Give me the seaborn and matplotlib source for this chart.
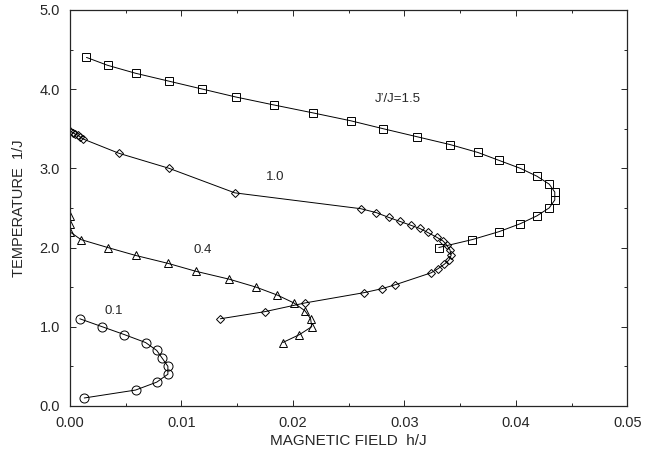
import numpy as np
import pandas as pd
import matplotlib
matplotlib.use("Agg")
import matplotlib.pyplot as plt
from matplotlib.ticker import MultipleLocator, FormatStrFormatter
import seaborn as sns

# J'/J = 1.5 (squares)
h_15 = [0.0015, 0.0034, 0.0059, 0.0089, 0.0119, 0.0149, 0.0183, 0.0218, 0.0252,
        0.0281, 0.0311, 0.0341, 0.0366, 0.0385, 0.0404, 0.0419, 0.0430, 0.0435,
        0.0435, 0.0430, 0.0419, 0.0404, 0.0385, 0.0361, 0.0331]
t_15 = [4.40, 4.30, 4.20, 4.10, 4.00, 3.90, 3.80, 3.70, 3.60,
        3.50, 3.40, 3.30, 3.20, 3.10, 3.00, 2.90, 2.80, 2.70,
        2.60, 2.50, 2.40, 2.30, 2.20, 2.10, 2.00]

# J'/J = 1.0 (diamonds)
h_10 = [0.0000, 0.0003, 0.0005, 0.0007, 0.0009, 0.0012, 0.0044, 0.0089, 0.0148,
        0.0261, 0.0275, 0.0286, 0.0296, 0.0306, 0.0314, 0.0321, 0.0329, 0.0335,
        0.0338, 0.0341, 0.0342, 0.0340, 0.0336, 0.0330, 0.0324, 0.0292, 0.0280,
        0.0264, 0.0211, 0.0175, 0.0135]
t_10 = [3.47, 3.45, 3.43, 3.42, 3.40, 3.37, 3.19, 3.00, 2.69,
        2.49, 2.44, 2.38, 2.33, 2.28, 2.24, 2.19, 2.13, 2.08,
        2.03, 1.97, 1.90, 1.84, 1.79, 1.73, 1.68, 1.53, 1.48,
        1.43, 1.30, 1.19, 1.10]

# J'/J = 0.4 (triangles)
h_04 = [0.0000, 0.0000, 0.0000, 0.0010, 0.0034, 0.0059, 0.0088, 0.0113, 0.0143,
        0.0167, 0.0186, 0.0201, 0.0211, 0.0216, 0.0217, 0.0206, 0.0191]
t_04 = [2.40, 2.30, 2.20, 2.10, 2.00, 1.90, 1.80, 1.70, 1.60,
        1.50, 1.40, 1.30, 1.20, 1.10, 1.00, 0.90, 0.80]

# J'/J = 0.1 (circles)
h_01 = [0.0009, 0.0029, 0.0049, 0.0068, 0.0078, 0.0083, 0.0088, 0.0088, 0.0078,
        0.0059, 0.0013]
t_01 = [1.10, 1.00, 0.90, 0.80, 0.70, 0.60, 0.50, 0.40, 0.30, 0.20, 0.10]

series = [
    (h_15, t_15, "s", 6.0),
    (h_10, t_10, "D", 4.2),
    (h_04, t_04, "^", 6.0),
    (h_01, t_01, "o", 6.5),
]

labels = ["J\u2019/J=1.5", "1.0", "0.4", "0.1"]
label_pos = [(0.0294, 3.87), (0.0184, 2.89), (0.0119, 1.97), (0.0039, 1.20)]

sns.set_style("ticks")
plt.rcParams["font.family"] = ["Liberation Sans", "DejaVu Sans"]

fig = plt.figure(figsize=(6.46, 4.5), dpi=100)
ax = fig.add_axes([0.108, 0.098, 0.863, 0.880])

for h, t, mk, ms in series:
    df = pd.DataFrame({"h": h, "T": t})
    sns.lineplot(data=df, x="h", y="T", sort=False, estimator=None, ax=ax,
                 color="black", linewidth=0.7, marker=mk, markersize=ms,
                 markerfacecolor="none", markeredgecolor="black",
                 markeredgewidth=0.7)

for txt, (x, y) in zip(labels, label_pos):
    ax.text(x, y, txt, ha="center", va="center", fontsize=9.5)

ax.set_xlim(0, 0.05)
ax.set_ylim(0, 5.0)
ax.xaxis.set_major_locator(MultipleLocator(0.01))
ax.xaxis.set_minor_locator(MultipleLocator(0.005))
ax.yaxis.set_major_locator(MultipleLocator(1.0))
ax.yaxis.set_minor_locator(MultipleLocator(0.5))
ax.xaxis.set_major_formatter(FormatStrFormatter("%.2f"))
ax.yaxis.set_major_formatter(FormatStrFormatter("%.1f"))
ax.tick_params(which="both", direction="in", top=True, right=True,
               labelsize=10.5, width=0.7)
ax.tick_params(which="major", length=4)
ax.tick_params(which="minor", length=2.5)
ax.tick_params(axis="x", which="major", pad=7)
ax.tick_params(axis="y", which="major", pad=7)
for sp in ax.spines.values():
    sp.set_linewidth(0.9)

ax.set_xlabel("MAGNETIC FIELD  h/J", fontsize=11, labelpad=3)
ax.set_ylabel("TEMPERATURE  1/J", fontsize=10.5, labelpad=10)

fig.savefig("out.png", dpi=100)
